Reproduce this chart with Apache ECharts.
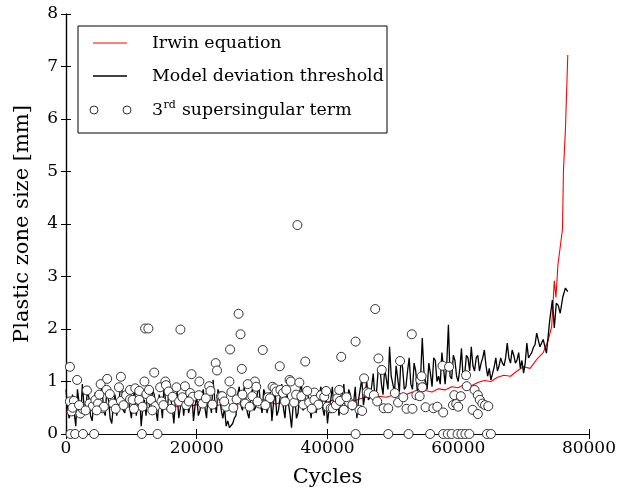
<!DOCTYPE html>
<html><head><meta charset="utf-8">
<script src="https://cdn.jsdelivr.net/npm/echarts@6/dist/echarts.min.js"></script>
<style>html,body{margin:0;padding:0;background:#fff}#c{width:619px;height:493px}</style>
</head><body><div id="c"></div><script>
// ---- data ----
const xAxisTicks = [0, 20000, 40000, 60000, 80000];
const yAxisTicks = [0, 1, 2, 3, 4, 5, 6, 7, 8];
const legendNames = ['Irwin equation', 'Model deviation threshold', '3rd supersingular term'];

const irwinCycles = [0,1000,2000,3000,4000,5000,6000,7000,8000,9000,10000,11000,12000,13000,14000,15000,16000,17000,18000,19000,20000,21000,22000,23000,24000,25000,26000,27000,28000,29000,30000,31000,32000,33000,34000,35000,36000,37000,38000,39000,40000,41000,42000,43000,44000,45000,46000,47000,48000,49000,50000,51000,52000,53000,54000,55000,56000,57000,58000,59000,60000,61000,62000,63000,64000,65000,66000,67000,68000,69000,70000,71000,72000,73000,73800,74300,74700,74950,75250,75950,76100,76400,76760];
const irwinSize = [0.40,0.45,0.42,0.48,0.45,0.50,0.47,0.52,0.49,0.53,0.50,0.55,0.52,0.50,0.56,0.52,0.55,0.52,0.57,0.53,0.56,0.52,0.58,0.54,0.57,0.55,0.58,0.56,0.60,0.56,0.58,0.62,0.57,0.60,0.58,0.62,0.59,0.63,0.60,0.64,0.61,0.65,0.62,0.66,0.63,0.67,0.70,0.68,0.72,0.70,0.74,0.77,0.75,0.80,0.78,0.83,0.80,0.86,0.84,0.90,0.88,0.95,0.92,0.98,1.02,1.00,1.08,1.12,1.10,1.20,1.28,1.25,1.42,1.55,1.80,2.05,2.92,2.60,3.22,3.90,5.03,5.80,7.22];

const modelCycles = [0,500,1000,1500,2000,2500,3000,3500,4000,4500,5000,5500,6000,6500,7000,7500,8000,8500,9000,9500,10000,10500,11000,11500,12000,12500,13000,13500,14000,14500,15000,15500,16000,16500,17000,17500,18000,18500,19000,19500,20000,20500,21000,21500,22000,22500,23000,23500,24000,24500,25000,25500,26000,26500,27000,27500,28000,28500,29000,29500,30000,30500,31000,31500,32000,32500,33000,33500,34000,34500,35000,35500,36000,36500,37000,37500,38000,38500,39000,39500,40000,40500,41000,41500,42000,42500,43000,43500,44000,44500,45000,45500,46000,46500,47000,47500,48000,48500,49000,49500,50000,50500,51000,51500,52000,52500,53000,53500,54000,54500,55000,55500,56000,56500,57000,57500,58000,58500,59000,59500,60000,60500,61000,61500,62000,62500,63000,63500,64000,64500,65000,65500,66000,66500,67000,67500,68000,68500,69000,69500,70000,70500,71000,71500,72000,72500,73000,73500,74000,74400,74700,75000,75300,75600,76000,76400,76760];
const modelSize = [0.85,0.30,0.75,0.15,0.60,0.95,0.40,0.70,0.25,0.80,0.55,0.90,0.35,0.65,0.20,0.75,0.50,0.95,0.40,0.70,0.30,0.85,0.55,0.15,0.65,0.90,0.40,0.75,0.25,0.60,0.95,0.45,0.70,0.20,0.80,0.50,0.35,0.90,0.55,0.25,0.70,0.45,0.85,0.30,0.60,1.03,0.40,0.75,0.30,0.15,0.12,0.20,0.35,0.90,0.45,0.70,0.30,0.85,0.50,0.95,0.40,0.75,0.55,0.25,0.80,0.45,0.95,0.30,0.60,0.12,0.70,0.40,1.00,0.50,0.75,0.30,0.85,0.55,0.90,0.35,0.20,0.65,0.45,0.85,0.50,0.95,0.40,0.75,0.60,0.30,0.85,0.55,1.00,0.70,1.15,0.80,1.30,0.75,1.05,1.66,0.95,1.30,0.80,1.25,0.90,1.45,0.85,1.20,0.95,1.83,1.00,1.35,0.90,1.40,1.10,1.55,0.95,2.08,1.05,1.40,1.00,1.63,1.15,1.45,1.66,1.20,1.50,1.35,1.60,1.10,1.03,1.28,1.20,1.45,1.30,1.73,1.35,1.50,1.41,1.25,1.16,1.73,1.50,1.65,1.92,1.66,1.80,1.54,2.17,2.55,2.02,2.49,2.45,2.30,2.61,2.78,2.71];
// intermediate samples of the same curve
const modelMidCycles = [250,750,1250,1750,2250,2750,3250,3750,4250,4750,5250,5750,6250,6750,7250,7750,8250,8750,9250,9750,10250,10750,11250,11750,12250,12750,13250,13750,14250,14750,15250,15750,16250,16750,17250,17750,18250,18750,19250,19750,20250,20750,21250,21750,22250,22750,23250,23750,24250,24750,25250,25750,26250,26750,27250,27750,28250,28750,29250,29750,30250,30750,31250,31750,32250,32750,33250,33750,34250,34750,35250,35750,36250,36750,37250,37750,38250,38750,39250,39750,40250,40750,41250,41750,42250,42750,43250,43750,44250,44750,45250,45750,46250,46750,47250,47750,48250,48750,49250,49750,50250,50750,51250,51750,52250,52750,53250,53750,54250,54750,55250,55750,56250,56750,57250,57750,58250,58750,59250,59750,60250,60750,61250,61750,62250,62750,63250,63750,64250,64750,65250,65750,66250,66750,67250,67750,68250,68750,69250,69750,70250,70750,71250,71750];
const modelMidSize = [0.45,0.55,0.40,0.85,0.30,0.55,0.80,0.35,0.60,0.40,0.75,0.45,0.85,0.30,0.55,0.35,0.80,0.45,0.85,0.50,0.65,0.35,0.80,0.50,0.35,0.55,0.85,0.45,0.75,0.30,0.60,0.85,0.50,0.65,0.30,0.75,0.65,0.40,0.80,0.55,0.35,0.70,0.50,0.80,0.40,0.65,0.85,0.45,0.50,0.25,0.15,0.30,0.75,0.55,0.90,0.40,0.70,0.45,0.75,0.55,0.85,0.40,0.80,0.60,0.35,0.70,0.50,0.80,0.40,0.55,0.30,0.80,0.45,0.90,0.55,0.70,0.40,0.75,0.50,0.70,0.50,0.90,0.60,0.35,0.75,0.50,0.85,0.45,0.90,0.65,1.05,0.75,0.65,0.90,0.70,1.20,0.95,1.25,0.85,1.10,0.80,1.05,1.45,0.85,1.20,0.95,1.35,0.80,1.10,1.20,0.85,1.15,1.45,1.00,0.95,1.25,1.35,1.10,1.50,1.10,1.25,1.05,1.50,1.20,1.30,1.45,1.20,1.45,1.30,1.25,1.15,1.45,1.30,1.35,1.45,1.45,1.60,1.35,1.55,1.40,1.35,1.45,1.55,1.70];

const termCycles = [600,1700,600,1200,850,2200,2600,3200,3600,4100,4500,4900,5300,5600,5800,6200,6300,6700,7200,8100,8400,8400,9200,9800,9800,10200,10600,11200,11200,11700,12000,12300,12700,13000,13500,13700,14400,14600,15200,15300,15700,16300,16900,17300,18200,18400,19000,19200,19400,20300,20400,20900,21900,22400,22900,23100,23700,23900,24500,25000,25100,25600,26100,26400,26700,26900,27400,28100,28500,28900,29100,29600,30100,30900,31200,31600,31900,32200,32700,32800,33200,33700,34200,34400,34900,35400,35700,36300,36600,37200,38000,38000,38600,39000,39500,40000,40500,40800,41300,41500,41800,41900,42100,42500,43300,44300,44900,45300,45600,46000,46300,47100,47300,47600,47800,48300,48600,49300,50300,50800,51100,51600,52100,52900,53000,53600,54100,54200,54400,54500,55000,56200,56800,57600,57700,58600,59200,59400,59700,60000,60400,61200,61300,62200,62500,63000,63000,63300,63700,64100,64600,12100,12600,17500,1000,2000,3000,4700,5100,7600,8800,10400,13200,14900,16100,17800,18800,21400,22100,24200,25300,27000,27800,29300,30500,33500,35200,36000,36900,37600,39800,42900,43800,680,1400,2600,4300,11600,14000,44300,49300,52400,55700,57700,58400,59000,59900,60500,61100,61700,64400,65000];
const termSize = [1.28,1.03,0.62,0.63,0.43,0.39,0.47,0.83,0.58,0.53,0.65,0.58,0.95,0.49,0.52,0.84,1.05,0.76,0.58,0.89,1.09,0.63,0.74,0.84,0.66,0.65,0.87,0.65,0.82,0.52,1.00,0.76,0.84,0.65,1.17,0.53,0.89,0.62,1.00,0.93,0.81,0.71,0.89,0.62,0.91,0.55,0.78,1.14,0.71,0.74,1.00,0.58,0.91,0.56,1.35,1.21,0.72,0.72,0.52,1.00,1.61,0.50,0.66,2.29,1.90,1.24,0.58,0.52,0.72,1.00,0.90,0.58,1.60,0.70,0.68,0.90,0.87,0.81,1.29,0.84,0.78,0.84,1.03,1.00,0.60,3.98,0.98,0.56,1.38,0.60,0.79,0.65,0.56,0.74,0.71,0.52,0.49,0.49,0.55,0.68,0.84,0.63,1.47,0.46,0.60,1.76,0.46,0.44,1.06,0.80,0.78,0.74,2.38,0.62,1.44,1.22,0.49,0.49,0.78,0.60,1.39,0.70,0.48,1.90,0.48,0.74,0.72,1.03,1.10,0.89,0.51,0.49,0.52,1.30,0.41,1.28,0.55,0.74,0.57,0.52,0.72,1.12,0.91,0.46,0.84,0.74,0.38,0.65,0.58,0.55,0.53,2.01,2.01,1.99,0.50,0.55,0.45,0.45,0.75,0.48,0.55,0.48,0.45,0.55,0.48,0.70,0.62,0.68,0.82,0.62,0.80,0.75,0.95,0.62,0.55,0.62,0.75,0.72,0.82,0.48,0.82,0.70,0.55,0,0,0,0,0,0,0,0,0,0,0,0,0,0,0,0,0,0,0];

// ---- chart ----
const FONT = 'DejaVu Serif';
const pairs = (xs, ys) => xs.map((x, i) => [x, ys[i]]);
const modelData = pairs(modelCycles, modelSize).concat(pairs(modelMidCycles, modelMidSize)).sort((a, b) => a[0] - b[0]);
const chart = echarts.init(document.getElementById('c'), null, {renderer: 'canvas'});

const tickCommon = {show: true, inside: true, length: 5, lineStyle: {color: '#000', width: 1}};
const axisLineCommon = {show: true, lineStyle: {color: '#000', width: 1.2}};

// legend geometry
const LX = 78, LY = 26, LW = 309, LH = 107;
const rowY = [43, 76, 110];
const txtX = 152;
const legFont = '17.4px "' + FONT + '"';
const supFont = '11px "' + FONT + '"';
const ctx = document.createElement('canvas').getContext('2d');
ctx.font = legFont;
const w3 = ctx.measureText('3').width;
ctx.font = supFont;
const wrd = ctx.measureText('rd').width;

const graphics = [
  {type: 'rect', shape: {x: LX, y: LY, width: LW, height: LH}, style: {fill: '#fff', stroke: '#000', lineWidth: 1}, z: 100},
  {type: 'line', shape: {x1: 93, y1: rowY[0], x2: 127, y2: rowY[0]}, style: {stroke: '#ff0000', lineWidth: 1.2}, z: 101},
  {type: 'line', shape: {x1: 93, y1: rowY[1], x2: 127, y2: rowY[1]}, style: {stroke: '#000', lineWidth: 1.3}, z: 101},
  {type: 'circle', shape: {cx: 94, cy: rowY[2], r: 4}, style: {fill: '#fff', stroke: '#333', lineWidth: 1}, z: 101},
  {type: 'circle', shape: {cx: 127, cy: rowY[2], r: 4}, style: {fill: '#fff', stroke: '#333', lineWidth: 1}, z: 101},
  {type: 'text', style: {text: legendNames[0], x: txtX, y: rowY[0], font: legFont, fill: '#000', verticalAlign: 'middle'}, z: 101},
  {type: 'text', style: {text: legendNames[1], x: txtX, y: rowY[1], font: legFont, fill: '#000', verticalAlign: 'middle'}, z: 101},
  {type: 'text', style: {text: '3', x: txtX, y: rowY[2], font: legFont, fill: '#000', verticalAlign: 'middle'}, z: 101},
  {type: 'text', style: {text: 'rd', x: txtX + w3 + 0.5, y: rowY[2] - 5, font: supFont, fill: '#000', verticalAlign: 'middle'}, z: 101},
  {type: 'text', style: {text: ' supersingular term', x: txtX + w3 + wrd + 1, y: rowY[2], font: legFont, fill: '#000', verticalAlign: 'middle'}, z: 101}
];

chart.setOption({
  animation: false,
  backgroundColor: '#fff',
  grid: {left: 66, right: 25, top: 14, bottom: 59, containLabel: false},
  xAxis: [
    {type: 'value', min: xAxisTicks[0], max: xAxisTicks[xAxisTicks.length - 1], interval: 20000, position: 'bottom',
     axisLine: axisLineCommon, axisTick: tickCommon, splitLine: {show: false},
     axisLabel: {color: '#000', fontFamily: FONT, fontSize: 17, margin: 6, formatter: v => String(v)},
     name: 'Cycles', nameLocation: 'middle', nameGap: 33,
     nameTextStyle: {color: '#000', fontFamily: FONT, fontSize: 21}},
    {type: 'value', min: xAxisTicks[0], max: xAxisTicks[xAxisTicks.length - 1], interval: 20000, position: 'top',
     axisLine: axisLineCommon, axisTick: tickCommon, splitLine: {show: false}, axisLabel: {show: false}}
  ],
  yAxis: [
    {type: 'value', min: yAxisTicks[0], max: yAxisTicks[yAxisTicks.length - 1], interval: 1, position: 'left',
     axisLine: axisLineCommon, axisTick: tickCommon, splitLine: {show: false},
     axisLabel: {color: '#000', fontFamily: FONT, fontSize: 17, margin: 8, formatter: v => String(v)},
     name: 'Plastic zone size [mm]', nameLocation: 'middle', nameGap: 33,
     nameTextStyle: {color: '#000', fontFamily: FONT, fontSize: 21}},
    {type: 'value', min: yAxisTicks[0], max: yAxisTicks[yAxisTicks.length - 1], interval: 1, position: 'right',
     axisLine: axisLineCommon, axisTick: tickCommon, splitLine: {show: false}, axisLabel: {show: false}}
  ],
  series: [
    {name: legendNames[0], type: 'line', data: pairs(irwinCycles, irwinSize), showSymbol: false, symbol: 'none',
     lineStyle: {color: '#ff0000', width: 1.1}, z: 2},
    {name: legendNames[1], type: 'line', data: modelData, showSymbol: false, symbol: 'none',
     lineStyle: {color: '#000', width: 1.3}, z: 3},
    {name: legendNames[2], type: 'scatter', data: pairs(termCycles, termSize), symbol: 'circle', symbolSize: 9,
     itemStyle: {color: '#fff', borderColor: '#333', borderWidth: 1, opacity: 1}, z: 4}
  ],
  graphic: graphics
});
</script></body></html>
